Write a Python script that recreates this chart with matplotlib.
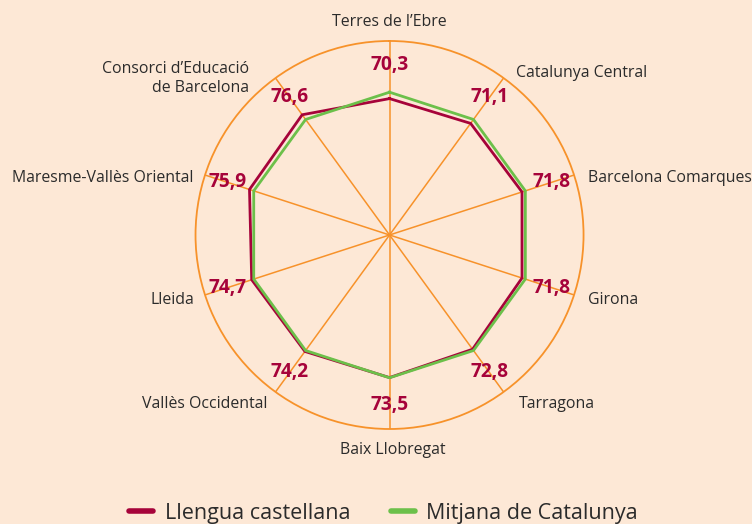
import numpy as np
import matplotlib
matplotlib.use("Agg")
import matplotlib.pyplot as plt

# Àmbits territorials (clockwise from the top)
categories = [
    "Terres de l\u2019Ebre",
    "Catalunya Central",
    "Barcelona Comarques",
    "Girona",
    "Tarragona",
    "Baix Llobregat",
    "Vallès Occidental",
    "Lleida",
    "Maresme-Vallès Oriental",
    "Consorci d\u2019Educació\nde Barcelona",
]
castellana = [70.3, 71.1, 71.8, 71.8, 72.8, 73.5, 74.2, 74.7, 75.9, 76.6]
mitjana_catalunya = [73.6] * len(categories)

series_names = ["Llengua castellana", "Mitjana de Catalunya"]

BG = "#FDE8D6"
ORANGE = "#F7922A"
RED = "#A6033A"
GREEN = "#6CC04A"
TEXT = "#2B2B2B"

plt.rcParams["font.family"] = ["Open Sans", "DejaVu Sans"]

fig = plt.figure(figsize=(7.52, 5.24), dpi=100, facecolor=BG)
ax = fig.add_axes([0.26, 0.1813, 0.516, 0.7405], projection="polar")
ax.set_facecolor(BG)
ax.set_theta_zero_location("N")
ax.set_theta_direction(-1)
ax.set_ylim(0, 100)

n = len(categories)
theta = np.arange(n) * 2 * np.pi / n

# Spokes only, no concentric rings
ax.set_xticks(theta)
ax.set_xticklabels([])
ax.set_yticks([])
ax.xaxis.grid(True, color=ORANGE, linewidth=1.1)
ax.yaxis.grid(False)
ax.spines["polar"].set_color(ORANGE)
ax.spines["polar"].set_linewidth(1.3)
ax.tick_params(axis="x", length=0)

closed_t = np.append(theta, theta[0])
ax.plot(closed_t, castellana + castellana[:1], color=RED, linewidth=2.0,
        solid_joinstyle="miter", zorder=3, label=series_names[0])
ax.plot(closed_t, mitjana_catalunya + mitjana_catalunya[:1], color=GREEN,
        linewidth=2.0, solid_joinstyle="miter", zorder=4, label=series_names[1])

# Value labels for the castellana series
for t, v in zip(theta, castellana):
    ax.text(t, 87.6, f"{v:.1f}".replace(".", ","), ha="center", va="center",
            fontsize=13.8, fontweight="bold", color=RED, zorder=5)

# Category labels around the circle (radius plus a small nudge in points)
label_r = [110, 106, 106, 106, 106, 110, 106, 106, 106, 106]
label_nudge = [(0, 0), (4, -3.5), (2, -5), (2, -1), (6, -2),
               (2, -1), (-1, -2), (0, -1), (0, -5), (-14, -7)]
for t, lab, r, (dx, dy) in zip(theta, categories, label_r, label_nudge):
    s = np.sin(t)
    if abs(s) < 1e-6:
        ha = "center"
    elif s > 0:
        ha = "left"
    else:
        ha = "right"
    ax.annotate(lab, xy=(t, r), xytext=(dx, dy), textcoords="offset points",
                ha=ha, va="center", fontsize=11.4, color=TEXT,
                multialignment="right" if ha == "right" else "left",
                annotation_clip=False, linespacing=1.25)

handles, labels = ax.get_legend_handles_labels()
leg = fig.legend(handles, labels, loc="center", ncol=2,
                 bbox_to_anchor=(0.51, 0.02), frameon=False,
                 fontsize=15.5, handlelength=1.1, handletextpad=0.55,
                 columnspacing=1.9)
for line in leg.get_lines():
    line.set_linewidth(4)
    line.set_solid_capstyle("round")
for txt in leg.get_texts():
    txt.set_color(TEXT)

fig.savefig("out.png", dpi=100, facecolor=BG)
